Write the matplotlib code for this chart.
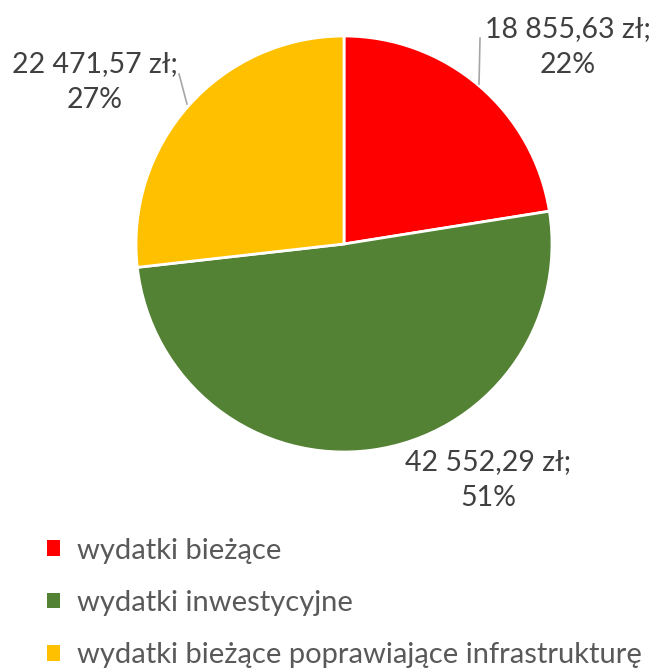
import matplotlib.pyplot as plt
from matplotlib.patches import Patch

# data
labels = ['wydatki bieżące', 'wydatki inwestycyjne', 'wydatki bieżące poprawiające infrastrukturę']
values = [18855.63, 42552.29, 22471.57]
value_texts = ['18 855,63 zł;', '42 552,29 zł;', '22 471,57 zł;']
percents = ['22%', '51%', '27%']
colors = ['#FF0000', '#548235', '#FFC000']

plt.rcParams['font.family'] = ['Lato', 'DejaVu Sans']

fig = plt.figure(figsize=(6.51, 6.68), dpi=100)
ax = fig.add_axes([136/651, 1 - 452/668, 416/651, 416/668])

ax.pie(values, colors=colors, startangle=90, counterclock=False,
       wedgeprops=dict(edgecolor='white', linewidth=2))
ax.set_xlim(-1, 1)
ax.set_ylim(-1, 1)
ax.set_aspect('equal')

# data labels
label_pos = [(1.077, 0.947), (0.692, -1.135), (-1.197, 0.779)]
for (x, y), v, p in zip(label_pos, value_texts, percents):
    ax.text(x, y, v + '\n' + p, ha='center', va='center', fontsize=20.5,
            color='#404040', linespacing=1.45, clip_on=False)

# leader lines
ax.plot([0.654, 0.649], [0.99, 0.769], color='#A6A6A6', lw=1.2, clip_on=False)
ax.plot([-0.793, -0.755], [0.817, 0.673], color='#A6A6A6', lw=1.2, clip_on=False)

handles = [Patch(facecolor=c, edgecolor='none') for c in colors]
leg = fig.legend(handles, labels, loc='upper left', bbox_to_anchor=(0.054, 1 - 526/668),
                 frameon=False, fontsize=21, handlelength=0.45, handleheight=0.45,
                 handletextpad=0.6, labelspacing=0.9, borderaxespad=0)
for t in leg.get_texts():
    t.set_color('#595959')

fig.savefig('out.png', dpi=100)
